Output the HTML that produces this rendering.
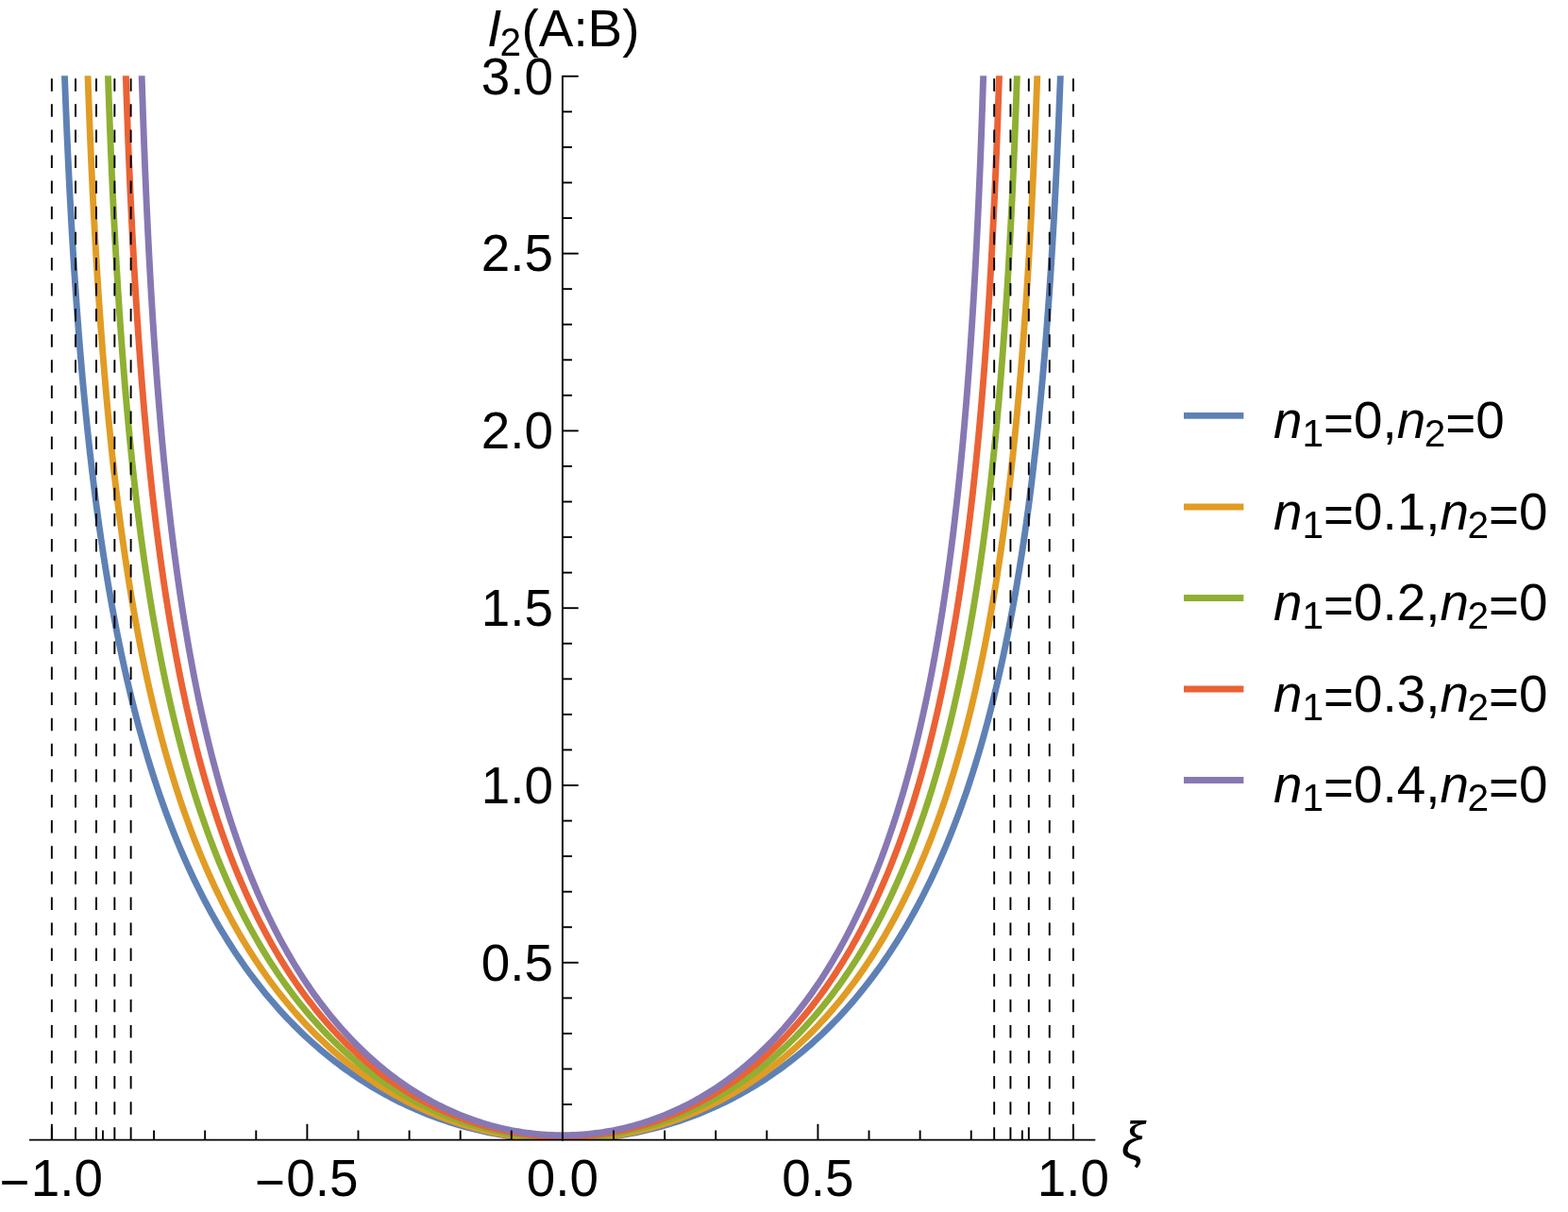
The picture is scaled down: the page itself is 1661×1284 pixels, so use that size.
<!DOCTYPE html>
<html><head><meta charset="utf-8"><title>plot</title>
<style>
html,body{margin:0;padding:0;background:#fff;}
body{width:1661px;height:1284px;overflow:hidden;}
svg{display:block;}
text{font-family:"Liberation Sans",sans-serif;fill:#000;}
.it{font-style:italic;}
</style></head><body>
<svg width="1661" height="1284" viewBox="0 0 1661 1284">
<rect width="1661" height="1284" fill="#fff"/>
<defs><clipPath id="c"><rect x="0" y="80.30" width="1661" height="1127.30"/></clipPath></defs>

<g clip-path="url(#c)" fill="none" stroke-width="6.9" stroke-linejoin="round">
<polyline stroke="#5E81B5" points="64.92,-31.88 64.94,-31.28 64.99,-29.47 65.07,-26.48 65.18,-22.33 65.33,-17.06 65.51,-10.72 65.72,-3.37 65.97,4.93 66.25,14.11 66.56,24.11 66.90,34.85 67.28,46.26 67.69,58.27 68.13,70.81 68.60,83.82 69.11,97.22 69.65,110.97 70.22,125.00 70.82,139.26 71.46,153.70 72.13,168.29 72.83,182.98 73.56,197.73 74.33,212.52 75.12,227.31 75.95,242.08 76.82,256.81 77.71,271.47 78.63,286.05 79.59,300.54 80.58,314.91 81.60,329.17 82.66,343.29 83.74,357.28 84.86,371.12 86.00,384.81 87.18,398.34 88.39,411.71 89.64,424.92 90.91,437.96 92.21,450.84 93.55,463.55 94.92,476.09 96.31,488.46 97.74,500.66 99.20,512.70 100.69,524.56 102.21,536.27 103.76,547.80 105.34,559.17 106.95,570.38 108.59,581.43 110.26,592.33 111.96,603.06 113.70,613.64 115.46,624.07 117.25,634.34 119.07,644.47 120.92,654.45 122.79,664.29 124.70,673.98 126.64,683.54 128.61,692.95 130.60,702.23 132.62,711.38 134.68,720.39 136.76,729.27 138.86,738.03 141.00,746.66 143.17,755.16 145.36,763.54 147.58,771.81 149.83,779.95 152.10,787.98 154.41,795.89 156.74,803.69 159.10,811.37 161.48,818.95 163.89,826.42 166.33,833.78 168.79,841.04 171.28,848.20 173.80,855.25 176.34,862.20 178.91,869.06 181.51,875.81 184.13,882.47 186.77,889.03 189.44,895.51 192.14,901.88 194.86,908.17 197.61,914.37 200.38,920.48 203.17,926.50 205.99,932.44 208.83,938.29 211.70,944.05 214.59,949.74 217.50,955.34 220.44,960.86 223.40,966.30 226.39,971.66 229.39,976.94 232.42,982.15 235.47,987.28 238.54,992.33 241.64,997.31 244.76,1002.22 247.90,1007.05 251.06,1011.82 254.24,1016.51 257.44,1021.13 260.67,1025.68 263.91,1030.16 267.17,1034.57 270.46,1038.92 273.76,1043.20 277.09,1047.41 280.43,1051.55 283.80,1055.64 287.18,1059.65 290.58,1063.61 294.01,1067.50 297.45,1071.33 300.90,1075.09 304.38,1078.80 307.88,1082.44 311.39,1086.02 314.92,1089.55 318.46,1093.01 322.03,1096.42 325.61,1099.76 329.21,1103.05 332.82,1106.28 336.45,1109.46 340.10,1112.58 343.76,1115.64 347.44,1118.64 351.13,1121.59 354.84,1124.49 358.56,1127.33 362.30,1130.12 366.05,1132.85 369.82,1135.53 373.60,1138.15 377.39,1140.73 381.20,1143.25 385.02,1145.71 388.86,1148.13 392.70,1150.49 396.56,1152.81 400.43,1155.07 404.32,1157.28 408.21,1159.44 412.12,1161.55 416.04,1163.61 419.97,1165.63 423.91,1167.59 427.86,1169.50 431.82,1171.36 435.79,1173.18 439.77,1174.94 443.76,1176.66 447.76,1178.33 451.77,1179.95 455.79,1181.53 459.82,1183.05 463.85,1184.53 467.89,1185.96 471.95,1187.35 476.00,1188.69 480.07,1189.98 484.14,1191.22 488.22,1192.42 492.31,1193.57 496.40,1194.68 500.50,1195.74 504.61,1196.75 508.72,1197.72 512.84,1198.64 516.96,1199.52 521.08,1200.35 525.22,1201.13 529.35,1201.87 533.49,1202.57 537.63,1203.22 541.78,1203.82 545.93,1204.38 550.08,1204.90 554.24,1205.37 558.40,1205.79 562.56,1206.17 566.72,1206.51 570.89,1206.80 575.05,1207.04 579.22,1207.24 583.39,1207.40 587.56,1207.51 591.73,1207.58 595.90,1207.60 600.07,1207.58 604.24,1207.51 608.41,1207.40 612.58,1207.24 616.75,1207.04 620.91,1206.80 625.08,1206.51 629.24,1206.17 633.40,1205.79 637.56,1205.37 641.72,1204.90 645.87,1204.38 650.02,1203.82 654.17,1203.22 658.31,1202.57 662.45,1201.87 666.58,1201.13 670.72,1200.35 674.84,1199.52 678.96,1198.64 683.08,1197.72 687.19,1196.75 691.30,1195.74 695.40,1194.68 699.49,1193.57 703.58,1192.42 707.66,1191.22 711.73,1189.98 715.80,1188.69 719.85,1187.35 723.91,1185.96 727.95,1184.53 731.98,1183.05 736.01,1181.53 740.03,1179.95 744.04,1178.33 748.04,1176.66 752.03,1174.94 756.01,1173.18 759.98,1171.36 763.94,1169.50 767.89,1167.59 771.83,1165.63 775.76,1163.61 779.68,1161.55 783.59,1159.44 787.48,1157.28 791.37,1155.07 795.24,1152.81 799.10,1150.49 802.94,1148.13 806.78,1145.71 810.60,1143.25 814.41,1140.73 818.20,1138.15 821.98,1135.53 825.75,1132.85 829.50,1130.12 833.24,1127.33 836.96,1124.49 840.67,1121.59 844.36,1118.64 848.04,1115.64 851.70,1112.58 855.35,1109.46 858.98,1106.28 862.59,1103.05 866.19,1099.76 869.77,1096.42 873.34,1093.01 876.88,1089.55 880.41,1086.02 883.92,1082.44 887.42,1078.80 890.90,1075.09 894.35,1071.33 897.79,1067.50 901.22,1063.61 904.62,1059.65 908.00,1055.64 911.37,1051.55 914.71,1047.41 918.04,1043.20 921.34,1038.92 924.63,1034.57 927.89,1030.16 931.13,1025.68 934.36,1021.13 937.56,1016.51 940.74,1011.82 943.90,1007.05 947.04,1002.22 950.16,997.31 953.26,992.33 956.33,987.28 959.38,982.15 962.41,976.94 965.41,971.66 968.40,966.30 971.36,960.86 974.30,955.34 977.21,949.74 980.10,944.05 982.97,938.29 985.81,932.44 988.63,926.50 991.42,920.48 994.19,914.37 996.94,908.17 999.66,901.88 1002.36,895.51 1005.03,889.03 1007.67,882.47 1010.29,875.81 1012.89,869.06 1015.46,862.20 1018.00,855.25 1020.52,848.20 1023.01,841.04 1025.47,833.78 1027.91,826.42 1030.32,818.95 1032.70,811.37 1035.06,803.69 1037.39,795.89 1039.70,787.98 1041.97,779.95 1044.22,771.81 1046.44,763.54 1048.63,755.16 1050.80,746.66 1052.94,738.03 1055.04,729.27 1057.12,720.39 1059.18,711.38 1061.20,702.23 1063.19,692.95 1065.16,683.54 1067.10,673.98 1069.01,664.29 1070.88,654.45 1072.73,644.47 1074.55,634.34 1076.34,624.07 1078.10,613.64 1079.84,603.06 1081.54,592.33 1083.21,581.43 1084.85,570.38 1086.46,559.17 1088.04,547.80 1089.59,536.27 1091.11,524.56 1092.60,512.70 1094.06,500.66 1095.49,488.46 1096.88,476.09 1098.25,463.55 1099.59,450.84 1100.89,437.96 1102.16,424.92 1103.41,411.71 1104.62,398.34 1105.80,384.81 1106.94,371.12 1108.06,357.28 1109.14,343.29 1110.20,329.17 1111.22,314.91 1112.21,300.54 1113.17,286.05 1114.09,271.47 1114.98,256.81 1115.85,242.08 1116.68,227.31 1117.47,212.52 1118.24,197.73 1118.97,182.98 1119.67,168.29 1120.34,153.70 1120.98,139.26 1121.58,125.00 1122.15,110.97 1122.69,97.22 1123.20,83.82 1123.67,70.81 1124.11,58.27 1124.52,46.26 1124.90,34.85 1125.24,24.11 1125.55,14.11 1125.83,4.93 1126.08,-3.37 1126.29,-10.72 1126.47,-17.06 1126.62,-22.33 1126.73,-26.48 1126.81,-29.47 1126.86,-31.28 1126.88,-31.88"/>
<polyline stroke="#E19C24" points="89.63,-31.89 89.65,-31.29 89.69,-29.48 89.77,-26.49 89.88,-22.34 90.02,-17.07 90.19,-10.74 90.40,-3.39 90.63,4.91 90.90,14.10 91.19,24.09 91.52,34.84 91.88,46.25 92.27,58.26 92.69,70.80 93.14,83.80 93.62,97.21 94.14,110.95 94.68,124.98 95.26,139.24 95.86,153.69 96.50,168.27 97.17,182.96 97.87,197.71 98.60,212.50 99.36,227.29 100.15,242.06 100.97,256.78 101.82,271.44 102.71,286.03 103.62,300.51 104.56,314.88 105.54,329.14 106.54,343.26 107.58,357.25 108.64,371.09 109.73,384.77 110.86,398.30 112.01,411.67 113.20,424.88 114.41,437.92 115.65,450.80 116.93,463.51 118.23,476.05 119.56,488.42 120.92,500.62 122.31,512.65 123.73,524.52 125.18,536.22 126.66,547.75 128.17,559.12 129.71,570.33 131.27,581.38 132.86,592.27 134.49,603.00 136.14,613.58 137.81,624.00 139.52,634.28 141.26,644.40 143.02,654.38 144.81,664.22 146.63,673.91 148.48,683.46 150.35,692.87 152.25,702.15 154.18,711.30 156.14,720.31 158.12,729.19 160.13,737.94 162.17,746.57 164.24,755.07 166.33,763.45 168.44,771.71 170.59,779.85 172.76,787.88 174.95,795.79 177.18,803.58 179.42,811.27 181.70,818.85 184.00,826.31 186.32,833.67 188.67,840.93 191.05,848.08 193.45,855.13 195.87,862.08 198.32,868.93 200.79,875.69 203.29,882.34 205.81,888.91 208.36,895.38 210.93,901.75 213.52,908.04 216.14,914.23 218.78,920.34 221.45,926.36 224.14,932.29 226.85,938.14 229.58,943.90 232.34,949.59 235.11,955.18 237.91,960.70 240.74,966.14 243.58,971.50 246.45,976.78 249.34,981.98 252.24,987.11 255.18,992.16 258.13,997.14 261.10,1002.05 264.09,1006.88 267.11,1011.64 270.14,1016.33 273.19,1020.94 276.27,1025.49 279.36,1029.97 282.47,1034.38 285.60,1038.73 288.76,1043.00 291.93,1047.21 295.12,1051.36 298.32,1055.44 301.55,1059.45 304.79,1063.40 308.06,1067.29 311.34,1071.12 314.63,1074.88 317.95,1078.58 321.28,1082.23 324.63,1085.81 327.99,1089.33 331.38,1092.79 334.77,1096.19 338.19,1099.54 341.62,1102.83 345.07,1106.05 348.53,1109.23 352.00,1112.34 355.50,1115.40 359.00,1118.41 362.52,1121.35 366.06,1124.25 369.61,1127.09 373.17,1129.87 376.75,1132.60 380.34,1135.28 383.95,1137.90 387.56,1140.47 391.19,1142.99 394.84,1145.46 398.49,1147.87 402.16,1150.24 405.84,1152.55 409.53,1154.81 413.23,1157.02 416.95,1159.18 420.67,1161.29 424.41,1163.35 428.15,1165.36 431.91,1167.32 435.68,1169.23 439.45,1171.09 443.24,1172.90 447.04,1174.67 450.84,1176.39 454.66,1178.05 458.48,1179.67 462.31,1181.25 466.15,1182.77 470.00,1184.25 473.85,1185.68 477.71,1187.07 481.58,1188.40 485.46,1189.69 489.34,1190.94 493.24,1192.13 497.13,1193.28 501.03,1194.39 504.94,1195.45 508.86,1196.46 512.78,1197.43 516.70,1198.35 520.63,1199.22 524.57,1200.05 528.50,1200.84 532.45,1201.58 536.39,1202.27 540.35,1202.92 544.30,1203.53 548.26,1204.08 552.22,1204.60 556.18,1205.07 560.14,1205.49 564.11,1205.87 568.08,1206.21 572.05,1206.50 576.02,1206.74 580.00,1206.94 583.97,1207.10 587.95,1207.21 591.92,1207.28 595.90,1207.30 599.88,1207.28 603.85,1207.21 607.83,1207.10 611.80,1206.94 615.78,1206.74 619.75,1206.50 623.72,1206.21 627.69,1205.87 631.66,1205.49 635.62,1205.07 639.58,1204.60 643.54,1204.08 647.50,1203.53 651.45,1202.92 655.41,1202.27 659.35,1201.58 663.30,1200.84 667.23,1200.05 671.17,1199.22 675.10,1198.35 679.02,1197.43 682.94,1196.46 686.86,1195.45 690.77,1194.39 694.67,1193.28 698.56,1192.13 702.46,1190.94 706.34,1189.69 710.22,1188.40 714.09,1187.07 717.95,1185.68 721.80,1184.25 725.65,1182.77 729.49,1181.25 733.32,1179.67 737.14,1178.05 740.96,1176.39 744.76,1174.67 748.56,1172.90 752.35,1171.09 756.12,1169.23 759.89,1167.32 763.65,1165.36 767.39,1163.35 771.13,1161.29 774.85,1159.18 778.57,1157.02 782.27,1154.81 785.96,1152.55 789.64,1150.24 793.31,1147.87 796.96,1145.46 800.61,1142.99 804.24,1140.47 807.85,1137.90 811.46,1135.28 815.05,1132.60 818.63,1129.87 822.19,1127.09 825.74,1124.25 829.28,1121.35 832.80,1118.41 836.30,1115.40 839.80,1112.34 843.27,1109.23 846.73,1106.05 850.18,1102.83 853.61,1099.54 857.03,1096.19 860.42,1092.79 863.81,1089.33 867.17,1085.81 870.52,1082.23 873.85,1078.58 877.17,1074.88 880.46,1071.12 883.74,1067.29 887.01,1063.40 890.25,1059.45 893.48,1055.44 896.68,1051.36 899.87,1047.21 903.04,1043.00 906.20,1038.73 909.33,1034.38 912.44,1029.97 915.53,1025.49 918.61,1020.94 921.66,1016.33 924.69,1011.64 927.71,1006.88 930.70,1002.05 933.67,997.14 936.62,992.16 939.56,987.11 942.46,981.98 945.35,976.78 948.22,971.50 951.06,966.14 953.89,960.70 956.69,955.18 959.46,949.59 962.22,943.90 964.95,938.14 967.66,932.29 970.35,926.36 973.02,920.34 975.66,914.23 978.28,908.04 980.87,901.75 983.44,895.38 985.99,888.91 988.51,882.34 991.01,875.69 993.48,868.93 995.93,862.08 998.35,855.13 1000.75,848.08 1003.13,840.93 1005.48,833.67 1007.80,826.31 1010.10,818.85 1012.38,811.27 1014.62,803.58 1016.85,795.79 1019.04,787.88 1021.21,779.85 1023.36,771.71 1025.47,763.45 1027.56,755.07 1029.63,746.57 1031.67,737.94 1033.68,729.19 1035.66,720.31 1037.62,711.30 1039.55,702.15 1041.45,692.87 1043.32,683.46 1045.17,673.91 1046.99,664.22 1048.78,654.38 1050.54,644.40 1052.28,634.28 1053.99,624.00 1055.66,613.58 1057.31,603.00 1058.94,592.27 1060.53,581.38 1062.09,570.33 1063.63,559.12 1065.14,547.75 1066.62,536.22 1068.07,524.52 1069.49,512.65 1070.88,500.62 1072.24,488.42 1073.57,476.05 1074.87,463.51 1076.15,450.80 1077.39,437.92 1078.60,424.88 1079.79,411.67 1080.94,398.30 1082.07,384.77 1083.16,371.09 1084.22,357.25 1085.26,343.26 1086.26,329.14 1087.24,314.88 1088.18,300.51 1089.09,286.03 1089.98,271.44 1090.83,256.78 1091.65,242.06 1092.44,227.29 1093.20,212.50 1093.93,197.71 1094.63,182.96 1095.30,168.27 1095.94,153.69 1096.54,139.24 1097.12,124.98 1097.66,110.95 1098.18,97.21 1098.66,83.80 1099.11,70.80 1099.53,58.26 1099.92,46.25 1100.28,34.84 1100.61,24.09 1100.90,14.10 1101.17,4.91 1101.40,-3.39 1101.61,-10.74 1101.78,-17.07 1101.92,-22.34 1102.03,-26.49 1102.11,-29.48 1102.15,-31.29 1102.17,-31.89"/>
<polyline stroke="#8FB032" points="111.19,-31.94 111.20,-31.33 111.25,-29.53 111.32,-26.53 111.42,-22.39 111.56,-17.12 111.72,-10.78 111.92,-3.44 112.14,4.86 112.40,14.04 112.68,24.04 112.99,34.78 113.34,46.19 113.71,58.20 114.11,70.74 114.55,83.74 115.01,97.14 115.50,110.88 116.02,124.91 116.57,139.17 117.15,153.61 117.76,168.19 118.40,182.88 119.07,197.62 119.77,212.41 120.50,227.19 121.26,241.96 122.04,256.68 122.86,271.34 123.70,285.92 124.58,300.40 125.48,314.77 126.41,329.02 127.37,343.13 128.36,357.11 129.38,370.95 130.43,384.63 131.51,398.16 132.61,411.52 133.75,424.72 134.91,437.76 136.10,450.63 137.32,463.33 138.57,475.86 139.84,488.23 141.14,500.42 142.48,512.45 143.84,524.31 145.22,536.00 146.64,547.53 148.08,558.89 149.55,570.10 151.05,581.14 152.58,592.02 154.13,602.74 155.71,613.32 157.32,623.73 158.95,634.00 160.61,644.12 162.30,654.09 164.02,663.92 165.76,673.60 167.53,683.15 169.32,692.55 171.14,701.82 172.99,710.95 174.86,719.96 176.76,728.83 178.69,737.58 180.64,746.19 182.61,754.69 184.61,763.06 186.64,771.31 188.69,779.44 190.77,787.46 192.87,795.36 195.00,803.15 197.15,810.83 199.33,818.39 201.53,825.85 203.76,833.20 206.01,840.45 208.28,847.59 210.58,854.63 212.90,861.57 215.25,868.42 217.61,875.16 220.01,881.81 222.42,888.36 224.86,894.82 227.32,901.19 229.80,907.46 232.31,913.65 234.84,919.75 237.39,925.76 239.96,931.68 242.56,937.52 245.18,943.27 247.81,948.94 250.47,954.53 253.15,960.04 255.86,965.47 258.58,970.82 261.33,976.09 264.09,981.28 266.88,986.40 269.68,991.45 272.51,996.41 275.35,1001.31 278.22,1006.13 281.10,1010.88 284.01,1015.56 286.93,1020.17 289.87,1024.71 292.84,1029.18 295.82,1033.58 298.81,1037.91 301.83,1042.18 304.87,1046.38 307.92,1050.51 310.99,1054.59 314.08,1058.59 317.19,1062.53 320.31,1066.41 323.45,1070.23 326.61,1073.99 329.78,1077.68 332.97,1081.31 336.18,1084.88 339.40,1088.40 342.64,1091.85 345.89,1095.25 349.16,1098.58 352.44,1101.86 355.74,1105.08 359.06,1108.25 362.39,1111.35 365.73,1114.40 369.09,1117.40 372.46,1120.34 375.84,1123.23 379.24,1126.06 382.65,1128.83 386.08,1131.56 389.52,1134.23 392.97,1136.84 396.43,1139.41 399.91,1141.92 403.40,1144.38 406.90,1146.79 410.41,1149.14 413.93,1151.45 417.46,1153.70 421.01,1155.90 424.57,1158.06 428.13,1160.16 431.71,1162.21 435.30,1164.22 438.89,1166.17 442.50,1168.08 446.11,1169.93 449.74,1171.74 453.37,1173.50 457.02,1175.21 460.67,1176.88 464.33,1178.49 468.00,1180.06 471.67,1181.58 475.36,1183.05 479.05,1184.48 482.75,1185.86 486.45,1187.19 490.16,1188.48 493.88,1189.72 497.61,1190.91 501.34,1192.06 505.07,1193.16 508.82,1194.21 512.56,1195.22 516.32,1196.19 520.07,1197.10 523.84,1197.98 527.60,1198.80 531.37,1199.59 535.15,1200.32 538.93,1201.02 542.71,1201.66 546.50,1202.26 550.28,1202.82 554.08,1203.33 557.87,1203.80 561.67,1204.22 565.46,1204.60 569.26,1204.94 573.07,1205.23 576.87,1205.47 580.67,1205.67 584.48,1205.83 588.29,1205.94 592.09,1206.00 595.90,1206.03 599.71,1206.00 603.51,1205.94 607.32,1205.83 611.13,1205.67 614.93,1205.47 618.73,1205.23 622.54,1204.94 626.34,1204.60 630.13,1204.22 633.93,1203.80 637.72,1203.33 641.52,1202.82 645.30,1202.26 649.09,1201.66 652.87,1201.02 656.65,1200.32 660.43,1199.59 664.20,1198.80 667.96,1197.98 671.73,1197.10 675.48,1196.19 679.24,1195.22 682.98,1194.21 686.73,1193.16 690.46,1192.06 694.19,1190.91 697.92,1189.72 701.64,1188.48 705.35,1187.19 709.05,1185.86 712.75,1184.48 716.44,1183.05 720.13,1181.58 723.80,1180.06 727.47,1178.49 731.13,1176.88 734.78,1175.21 738.43,1173.50 742.06,1171.74 745.69,1169.93 749.30,1168.08 752.91,1166.17 756.50,1164.22 760.09,1162.21 763.67,1160.16 767.23,1158.06 770.79,1155.90 774.34,1153.70 777.87,1151.45 781.39,1149.14 784.90,1146.79 788.40,1144.38 791.89,1141.92 795.37,1139.41 798.83,1136.84 802.28,1134.23 805.72,1131.56 809.15,1128.83 812.56,1126.06 815.96,1123.23 819.34,1120.34 822.71,1117.40 826.07,1114.40 829.41,1111.35 832.74,1108.25 836.06,1105.08 839.36,1101.86 842.64,1098.58 845.91,1095.25 849.16,1091.85 852.40,1088.40 855.62,1084.88 858.83,1081.31 862.02,1077.68 865.19,1073.99 868.35,1070.23 871.49,1066.41 874.61,1062.53 877.72,1058.59 880.81,1054.59 883.88,1050.51 886.93,1046.38 889.97,1042.18 892.99,1037.91 895.98,1033.58 898.96,1029.18 901.93,1024.71 904.87,1020.17 907.79,1015.56 910.70,1010.88 913.58,1006.13 916.45,1001.31 919.29,996.41 922.12,991.45 924.92,986.40 927.71,981.28 930.47,976.09 933.22,970.82 935.94,965.47 938.65,960.04 941.33,954.53 943.99,948.94 946.62,943.27 949.24,937.52 951.84,931.68 954.41,925.76 956.96,919.75 959.49,913.65 962.00,907.46 964.48,901.19 966.94,894.82 969.38,888.36 971.79,881.81 974.19,875.16 976.55,868.42 978.90,861.57 981.22,854.63 983.52,847.59 985.79,840.45 988.04,833.20 990.27,825.85 992.47,818.39 994.65,810.83 996.80,803.15 998.93,795.36 1001.03,787.46 1003.11,779.44 1005.16,771.31 1007.19,763.06 1009.19,754.69 1011.16,746.19 1013.11,737.58 1015.04,728.83 1016.94,719.96 1018.81,710.95 1020.66,701.82 1022.48,692.55 1024.27,683.15 1026.04,673.60 1027.78,663.92 1029.50,654.09 1031.19,644.12 1032.85,634.00 1034.48,623.73 1036.09,613.32 1037.67,602.74 1039.22,592.02 1040.75,581.14 1042.25,570.10 1043.72,558.89 1045.16,547.53 1046.58,536.00 1047.96,524.31 1049.32,512.45 1050.66,500.42 1051.96,488.23 1053.23,475.86 1054.48,463.33 1055.70,450.63 1056.89,437.76 1058.05,424.72 1059.19,411.52 1060.29,398.16 1061.37,384.63 1062.42,370.95 1063.44,357.11 1064.43,343.13 1065.39,329.02 1066.32,314.77 1067.22,300.40 1068.10,285.92 1068.94,271.34 1069.76,256.68 1070.54,241.96 1071.30,227.19 1072.03,212.41 1072.73,197.62 1073.40,182.88 1074.04,168.19 1074.65,153.61 1075.23,139.17 1075.78,124.91 1076.30,110.88 1076.79,97.14 1077.25,83.74 1077.69,70.74 1078.09,58.20 1078.46,46.19 1078.81,34.78 1079.12,24.04 1079.40,14.04 1079.66,4.86 1079.88,-3.44 1080.08,-10.78 1080.24,-17.12 1080.38,-22.39 1080.48,-26.53 1080.55,-29.53 1080.60,-31.33 1080.61,-31.94"/>
<polyline stroke="#EB6235" points="130.20,-32.00 130.22,-31.40 130.26,-29.59 130.33,-26.60 130.43,-22.45 130.56,-17.18 130.72,-10.85 130.90,-3.50 131.12,4.79 131.36,13.97 131.64,23.97 131.94,34.70 132.27,46.11 132.63,58.12 133.01,70.65 133.43,83.65 133.87,97.05 134.35,110.79 134.85,124.81 135.38,139.07 135.93,153.51 136.52,168.09 137.14,182.77 137.78,197.51 138.45,212.29 139.15,227.07 139.88,241.83 140.63,256.55 141.42,271.20 142.23,285.77 143.07,300.24 143.94,314.61 144.83,328.85 145.76,342.97 146.71,356.94 147.69,370.77 148.69,384.44 149.73,397.96 150.79,411.32 151.88,424.51 152.99,437.54 154.14,450.40 155.31,463.10 156.51,475.62 157.73,487.98 158.99,500.17 160.26,512.18 161.57,524.03 162.90,535.72 164.26,547.24 165.65,558.59 167.06,569.79 168.50,580.82 169.97,591.69 171.46,602.41 172.98,612.97 174.52,623.38 176.09,633.63 177.69,643.74 179.31,653.70 180.96,663.52 182.63,673.19 184.33,682.73 186.06,692.12 187.80,701.38 189.58,710.50 191.38,719.50 193.20,728.36 195.05,737.09 196.93,745.70 198.83,754.18 200.75,762.54 202.70,770.78 204.67,778.90 206.67,786.91 208.69,794.80 210.73,802.57 212.80,810.24 214.89,817.79 217.00,825.24 219.14,832.58 221.30,839.81 223.49,846.94 225.70,853.97 227.93,860.90 230.18,867.73 232.45,874.46 234.75,881.10 237.07,887.64 239.42,894.09 241.78,900.44 244.17,906.70 246.57,912.88 249.00,918.96 251.45,924.96 253.93,930.87 256.42,936.69 258.93,942.44 261.47,948.10 264.03,953.67 266.60,959.17 269.20,964.58 271.81,969.92 274.45,975.18 277.11,980.36 279.78,985.47 282.48,990.50 285.19,995.45 287.93,1000.33 290.68,1005.14 293.45,1009.88 296.24,1014.55 299.05,1019.14 301.88,1023.67 304.73,1028.13 307.59,1032.52 310.47,1036.84 313.37,1041.09 316.28,1045.28 319.22,1049.40 322.17,1053.46 325.14,1057.46 328.12,1061.39 331.12,1065.25 334.14,1069.06 337.17,1072.80 340.22,1076.49 343.29,1080.11 346.37,1083.67 349.46,1087.17 352.57,1090.61 355.70,1093.99 358.84,1097.32 362.00,1100.59 365.17,1103.80 368.35,1106.95 371.55,1110.05 374.76,1113.09 377.99,1116.07 381.22,1119.00 384.48,1121.88 387.74,1124.70 391.02,1127.47 394.31,1130.18 397.62,1132.84 400.93,1135.45 404.26,1138.00 407.60,1140.50 410.95,1142.95 414.31,1145.35 417.68,1147.70 421.07,1149.99 424.46,1152.24 427.87,1154.43 431.29,1156.58 434.71,1158.67 438.15,1160.72 441.60,1162.71 445.05,1164.66 448.52,1166.56 451.99,1168.41 455.47,1170.21 458.97,1171.96 462.47,1173.66 465.97,1175.32 469.49,1176.93 473.01,1178.49 476.55,1180.01 480.09,1181.47 483.63,1182.89 487.18,1184.27 490.74,1185.59 494.31,1186.87 497.88,1188.11 501.46,1189.30 505.05,1190.44 508.64,1191.53 512.23,1192.59 515.83,1193.59 519.44,1194.55 523.05,1195.46 526.66,1196.33 530.28,1197.16 533.91,1197.94 537.53,1198.67 541.16,1199.36 544.80,1200.00 548.43,1200.60 552.07,1201.16 555.72,1201.67 559.36,1202.13 563.01,1202.55 566.66,1202.93 570.31,1203.26 573.96,1203.55 577.62,1203.79 581.27,1203.99 584.93,1204.15 588.59,1204.26 592.24,1204.32 595.90,1204.35 599.56,1204.32 603.21,1204.26 606.87,1204.15 610.53,1203.99 614.18,1203.79 617.84,1203.55 621.49,1203.26 625.14,1202.93 628.79,1202.55 632.44,1202.13 636.08,1201.67 639.73,1201.16 643.37,1200.60 647.00,1200.00 650.64,1199.36 654.27,1198.67 657.89,1197.94 661.52,1197.16 665.14,1196.33 668.75,1195.46 672.36,1194.55 675.97,1193.59 679.57,1192.59 683.16,1191.53 686.75,1190.44 690.34,1189.30 693.92,1188.11 697.49,1186.87 701.06,1185.59 704.62,1184.27 708.17,1182.89 711.71,1181.47 715.25,1180.01 718.79,1178.49 722.31,1176.93 725.83,1175.32 729.33,1173.66 732.83,1171.96 736.33,1170.21 739.81,1168.41 743.28,1166.56 746.75,1164.66 750.20,1162.71 753.65,1160.72 757.09,1158.67 760.51,1156.58 763.93,1154.43 767.34,1152.24 770.73,1149.99 774.12,1147.70 777.49,1145.35 780.85,1142.95 784.20,1140.50 787.54,1138.00 790.87,1135.45 794.18,1132.84 797.49,1130.18 800.78,1127.47 804.06,1124.70 807.32,1121.88 810.58,1119.00 813.81,1116.07 817.04,1113.09 820.25,1110.05 823.45,1106.95 826.63,1103.80 829.80,1100.59 832.96,1097.32 836.10,1093.99 839.23,1090.61 842.34,1087.17 845.43,1083.67 848.51,1080.11 851.58,1076.49 854.63,1072.80 857.66,1069.06 860.68,1065.25 863.68,1061.39 866.66,1057.46 869.63,1053.46 872.58,1049.40 875.52,1045.28 878.43,1041.09 881.33,1036.84 884.21,1032.52 887.07,1028.13 889.92,1023.67 892.75,1019.14 895.56,1014.55 898.35,1009.88 901.12,1005.14 903.87,1000.33 906.61,995.45 909.32,990.50 912.02,985.47 914.69,980.36 917.35,975.18 919.99,969.92 922.60,964.58 925.20,959.17 927.77,953.67 930.33,948.10 932.87,942.44 935.38,936.69 937.87,930.87 940.35,924.96 942.80,918.96 945.23,912.88 947.63,906.70 950.02,900.44 952.38,894.09 954.73,887.64 957.05,881.10 959.35,874.46 961.62,867.73 963.87,860.90 966.10,853.97 968.31,846.94 970.50,839.81 972.66,832.58 974.80,825.24 976.91,817.79 979.00,810.24 981.07,802.57 983.11,794.80 985.13,786.91 987.13,778.90 989.10,770.78 991.05,762.54 992.97,754.18 994.87,745.70 996.75,737.09 998.60,728.36 1000.42,719.50 1002.22,710.50 1004.00,701.38 1005.74,692.12 1007.47,682.73 1009.17,673.19 1010.84,663.52 1012.49,653.70 1014.11,643.74 1015.71,633.63 1017.28,623.38 1018.82,612.97 1020.34,602.41 1021.83,591.69 1023.30,580.82 1024.74,569.79 1026.15,558.59 1027.54,547.24 1028.90,535.72 1030.23,524.03 1031.54,512.18 1032.81,500.17 1034.07,487.98 1035.29,475.62 1036.49,463.10 1037.66,450.40 1038.81,437.54 1039.92,424.51 1041.01,411.32 1042.07,397.96 1043.11,384.44 1044.11,370.77 1045.09,356.94 1046.04,342.97 1046.97,328.85 1047.86,314.61 1048.73,300.24 1049.57,285.77 1050.38,271.20 1051.17,256.55 1051.92,241.83 1052.65,227.07 1053.35,212.29 1054.02,197.51 1054.66,182.77 1055.28,168.09 1055.87,153.51 1056.42,139.07 1056.95,124.81 1057.45,110.79 1057.93,97.05 1058.37,83.65 1058.79,70.65 1059.17,58.12 1059.53,46.11 1059.86,34.70 1060.16,23.97 1060.44,13.97 1060.68,4.79 1060.90,-3.50 1061.08,-10.85 1061.24,-17.18 1061.37,-22.45 1061.47,-26.60 1061.54,-29.59 1061.58,-31.40 1061.60,-32.00"/>
<polyline stroke="#8778B3" points="147.14,-32.06 147.16,-31.46 147.20,-29.65 147.27,-26.66 147.36,-22.51 147.49,-17.25 147.64,-10.91 147.82,-3.57 148.03,4.73 148.26,13.91 148.52,23.90 148.82,34.63 149.13,46.04 149.48,58.04 149.85,70.58 150.25,83.57 150.68,96.97 151.14,110.70 151.62,124.72 152.13,138.97 152.67,153.41 153.23,167.98 153.82,182.66 154.44,197.40 155.09,212.17 155.76,226.95 156.47,241.71 157.19,256.42 157.95,271.07 158.73,285.63 159.54,300.10 160.38,314.46 161.24,328.70 162.13,342.80 163.05,356.77 163.99,370.59 164.96,384.26 165.96,397.77 166.98,411.12 168.03,424.31 169.11,437.33 170.21,450.19 171.34,462.88 172.49,475.39 173.67,487.74 174.88,499.92 176.11,511.93 177.37,523.77 178.65,535.45 179.97,546.96 181.30,558.31 182.66,569.49 184.05,580.51 185.46,591.38 186.90,602.08 188.36,612.64 189.85,623.04 191.36,633.28 192.90,643.38 194.47,653.33 196.05,663.14 197.67,672.80 199.30,682.33 200.96,691.71 202.65,700.96 204.36,710.08 206.09,719.06 207.85,727.91 209.63,736.63 211.44,745.23 213.27,753.70 215.12,762.05 217.00,770.28 218.90,778.39 220.82,786.38 222.77,794.26 224.74,802.03 226.73,809.68 228.75,817.22 230.79,824.66 232.85,831.98 234.93,839.21 237.03,846.33 239.16,853.34 241.31,860.26 243.48,867.08 245.68,873.80 247.89,880.42 250.13,886.95 252.38,893.38 254.66,899.73 256.96,905.98 259.28,912.14 261.62,918.21 263.98,924.20 266.37,930.10 268.77,935.91 271.19,941.64 273.63,947.29 276.10,952.85 278.58,958.33 281.08,963.74 283.60,969.06 286.14,974.31 288.70,979.48 291.28,984.57 293.88,989.59 296.50,994.53 299.13,999.40 301.78,1004.20 304.45,1008.93 307.14,1013.58 309.85,1018.17 312.57,1022.68 315.32,1027.13 318.08,1031.50 320.85,1035.81 323.65,1040.06 326.46,1044.23 329.28,1048.35 332.13,1052.39 334.99,1056.38 337.86,1060.29 340.75,1064.15 343.66,1067.94 346.58,1071.68 349.52,1075.35 352.47,1078.96 355.44,1082.51 358.43,1086.00 361.42,1089.43 364.44,1092.80 367.46,1096.12 370.50,1099.37 373.56,1102.57 376.63,1105.72 379.71,1108.80 382.80,1111.83 385.91,1114.81 389.03,1117.73 392.17,1120.60 395.31,1123.41 398.47,1126.16 401.64,1128.87 404.83,1131.52 408.02,1134.12 411.23,1136.66 414.45,1139.15 417.68,1141.59 420.92,1143.98 424.17,1146.32 427.43,1148.61 430.70,1150.85 433.98,1153.03 437.28,1155.17 440.58,1157.26 443.89,1159.30 447.21,1161.28 450.54,1163.22 453.88,1165.11 457.23,1166.96 460.58,1168.75 463.95,1170.49 467.32,1172.19 470.70,1173.84 474.09,1175.44 477.48,1177.00 480.89,1178.51 484.30,1179.97 487.72,1181.38 491.14,1182.75 494.57,1184.07 498.01,1185.35 501.45,1186.58 504.90,1187.76 508.35,1188.90 511.81,1189.99 515.28,1191.04 518.75,1192.04 522.22,1192.99 525.70,1193.90 529.18,1194.77 532.67,1195.59 536.16,1196.36 539.66,1197.10 543.15,1197.78 546.66,1198.42 550.16,1199.02 553.67,1199.57 557.18,1200.08 560.69,1200.54 564.21,1200.96 567.72,1201.34 571.24,1201.67 574.76,1201.96 578.28,1202.20 581.80,1202.40 585.33,1202.55 588.85,1202.66 592.38,1202.73 595.90,1202.75 599.42,1202.73 602.95,1202.66 606.47,1202.55 610.00,1202.40 613.52,1202.20 617.04,1201.96 620.56,1201.67 624.08,1201.34 627.59,1200.96 631.11,1200.54 634.62,1200.08 638.13,1199.57 641.64,1199.02 645.14,1198.42 648.65,1197.78 652.14,1197.10 655.64,1196.36 659.13,1195.59 662.62,1194.77 666.10,1193.90 669.58,1192.99 673.05,1192.04 676.52,1191.04 679.99,1189.99 683.45,1188.90 686.90,1187.76 690.35,1186.58 693.79,1185.35 697.23,1184.07 700.66,1182.75 704.08,1181.38 707.50,1179.97 710.91,1178.51 714.32,1177.00 717.71,1175.44 721.10,1173.84 724.48,1172.19 727.85,1170.49 731.22,1168.75 734.57,1166.96 737.92,1165.11 741.26,1163.22 744.59,1161.28 747.91,1159.30 751.22,1157.26 754.52,1155.17 757.82,1153.03 761.10,1150.85 764.37,1148.61 767.63,1146.32 770.88,1143.98 774.12,1141.59 777.35,1139.15 780.57,1136.66 783.78,1134.12 786.97,1131.52 790.16,1128.87 793.33,1126.16 796.49,1123.41 799.63,1120.60 802.77,1117.73 805.89,1114.81 809.00,1111.83 812.09,1108.80 815.17,1105.72 818.24,1102.57 821.30,1099.37 824.34,1096.12 827.36,1092.80 830.38,1089.43 833.37,1086.00 836.36,1082.51 839.33,1078.96 842.28,1075.35 845.22,1071.68 848.14,1067.94 851.05,1064.15 853.94,1060.29 856.81,1056.38 859.67,1052.39 862.52,1048.35 865.34,1044.23 868.15,1040.06 870.95,1035.81 873.72,1031.50 876.48,1027.13 879.23,1022.68 881.95,1018.17 884.66,1013.58 887.35,1008.93 890.02,1004.20 892.67,999.40 895.30,994.53 897.92,989.59 900.52,984.57 903.10,979.48 905.66,974.31 908.20,969.06 910.72,963.74 913.22,958.33 915.70,952.85 918.17,947.29 920.61,941.64 923.03,935.91 925.43,930.10 927.82,924.20 930.18,918.21 932.52,912.14 934.84,905.98 937.14,899.73 939.42,893.38 941.67,886.95 943.91,880.42 946.12,873.80 948.32,867.08 950.49,860.26 952.64,853.34 954.77,846.33 956.87,839.21 958.95,831.98 961.01,824.66 963.05,817.22 965.07,809.68 967.06,802.03 969.03,794.26 970.98,786.38 972.90,778.39 974.80,770.28 976.68,762.05 978.53,753.70 980.36,745.23 982.17,736.63 983.95,727.91 985.71,719.06 987.44,710.08 989.15,700.96 990.84,691.71 992.50,682.33 994.13,672.80 995.75,663.14 997.33,653.33 998.90,643.38 1000.44,633.28 1001.95,623.04 1003.44,612.64 1004.90,602.08 1006.34,591.38 1007.75,580.51 1009.14,569.49 1010.50,558.31 1011.83,546.96 1013.15,535.45 1014.43,523.77 1015.69,511.93 1016.92,499.92 1018.13,487.74 1019.31,475.39 1020.46,462.88 1021.59,450.19 1022.69,437.33 1023.77,424.31 1024.82,411.12 1025.84,397.77 1026.84,384.26 1027.81,370.59 1028.75,356.77 1029.67,342.80 1030.56,328.70 1031.42,314.46 1032.26,300.10 1033.07,285.63 1033.85,271.07 1034.61,256.42 1035.33,241.71 1036.04,226.95 1036.71,212.17 1037.36,197.40 1037.98,182.66 1038.57,167.98 1039.13,153.41 1039.67,138.97 1040.18,124.72 1040.66,110.70 1041.12,96.97 1041.55,83.57 1041.95,70.58 1042.32,58.04 1042.67,46.04 1042.98,34.63 1043.28,23.90 1043.54,13.91 1043.77,4.73 1043.98,-3.57 1044.16,-10.91 1044.31,-17.25 1044.44,-22.51 1044.53,-26.66 1044.60,-29.65 1044.64,-31.46 1044.66,-32.06"/>
</g>
<g stroke="#000" stroke-width="1.9" stroke-dasharray="13.5 13.6" fill="none">
<line x1="54.85" y1="83.20" x2="54.85" y2="1207.60"/>
<line x1="1136.95" y1="83.20" x2="1136.95" y2="1207.60"/>
<line x1="80.03" y1="83.20" x2="80.03" y2="1207.60"/>
<line x1="1111.77" y1="83.20" x2="1111.77" y2="1207.60"/>
<line x1="101.99" y1="83.20" x2="101.99" y2="1207.60"/>
<line x1="1089.81" y1="83.20" x2="1089.81" y2="1207.60"/>
<line x1="121.37" y1="83.20" x2="121.37" y2="1207.60"/>
<line x1="1070.43" y1="83.20" x2="1070.43" y2="1207.60"/>
<line x1="138.63" y1="83.20" x2="138.63" y2="1207.60"/>
<line x1="1053.17" y1="83.20" x2="1053.17" y2="1207.60"/>
</g>
<g stroke="#000" stroke-width="1.9" fill="none">
<line x1="31" y1="1207.60" x2="1160.3" y2="1207.60"/>
<line x1="595.90" y1="79.90" x2="595.90" y2="1208.80"/>
<line x1="54.85" y1="1207.60" x2="54.85" y2="1190.80"/>
<line x1="108.95" y1="1207.60" x2="108.95" y2="1197.50"/>
<line x1="163.06" y1="1207.60" x2="163.06" y2="1197.50"/>
<line x1="217.17" y1="1207.60" x2="217.17" y2="1197.50"/>
<line x1="271.27" y1="1207.60" x2="271.27" y2="1197.50"/>
<line x1="325.38" y1="1207.60" x2="325.38" y2="1190.80"/>
<line x1="379.48" y1="1207.60" x2="379.48" y2="1197.50"/>
<line x1="433.59" y1="1207.60" x2="433.59" y2="1197.50"/>
<line x1="487.69" y1="1207.60" x2="487.69" y2="1197.50"/>
<line x1="541.79" y1="1207.60" x2="541.79" y2="1197.50"/>
<line x1="650.00" y1="1207.60" x2="650.00" y2="1197.50"/>
<line x1="704.11" y1="1207.60" x2="704.11" y2="1197.50"/>
<line x1="758.21" y1="1207.60" x2="758.21" y2="1197.50"/>
<line x1="812.32" y1="1207.60" x2="812.32" y2="1197.50"/>
<line x1="866.42" y1="1207.60" x2="866.42" y2="1190.80"/>
<line x1="920.53" y1="1207.60" x2="920.53" y2="1197.50"/>
<line x1="974.63" y1="1207.60" x2="974.63" y2="1197.50"/>
<line x1="1028.74" y1="1207.60" x2="1028.74" y2="1197.50"/>
<line x1="1082.85" y1="1207.60" x2="1082.85" y2="1197.50"/>
<line x1="1136.95" y1="1207.60" x2="1136.95" y2="1190.80"/>
<line x1="595.90" y1="1170.04" x2="606.00" y2="1170.04"/>
<line x1="595.90" y1="1132.48" x2="606.00" y2="1132.48"/>
<line x1="595.90" y1="1094.92" x2="606.00" y2="1094.92"/>
<line x1="595.90" y1="1057.36" x2="606.00" y2="1057.36"/>
<line x1="595.90" y1="1019.80" x2="612.70" y2="1019.80"/>
<line x1="595.90" y1="982.24" x2="606.00" y2="982.24"/>
<line x1="595.90" y1="944.68" x2="606.00" y2="944.68"/>
<line x1="595.90" y1="907.12" x2="606.00" y2="907.12"/>
<line x1="595.90" y1="869.56" x2="606.00" y2="869.56"/>
<line x1="595.90" y1="832.00" x2="612.70" y2="832.00"/>
<line x1="595.90" y1="794.44" x2="606.00" y2="794.44"/>
<line x1="595.90" y1="756.88" x2="606.00" y2="756.88"/>
<line x1="595.90" y1="719.32" x2="606.00" y2="719.32"/>
<line x1="595.90" y1="681.76" x2="606.00" y2="681.76"/>
<line x1="595.90" y1="644.20" x2="612.70" y2="644.20"/>
<line x1="595.90" y1="606.64" x2="606.00" y2="606.64"/>
<line x1="595.90" y1="569.08" x2="606.00" y2="569.08"/>
<line x1="595.90" y1="531.52" x2="606.00" y2="531.52"/>
<line x1="595.90" y1="493.96" x2="606.00" y2="493.96"/>
<line x1="595.90" y1="456.40" x2="612.70" y2="456.40"/>
<line x1="595.90" y1="418.84" x2="606.00" y2="418.84"/>
<line x1="595.90" y1="381.28" x2="606.00" y2="381.28"/>
<line x1="595.90" y1="343.72" x2="606.00" y2="343.72"/>
<line x1="595.90" y1="306.16" x2="606.00" y2="306.16"/>
<line x1="595.90" y1="268.60" x2="612.70" y2="268.60"/>
<line x1="595.90" y1="231.04" x2="606.00" y2="231.04"/>
<line x1="595.90" y1="193.48" x2="606.00" y2="193.48"/>
<line x1="595.90" y1="155.92" x2="606.00" y2="155.92"/>
<line x1="595.90" y1="118.36" x2="606.00" y2="118.36"/>
<line x1="595.90" y1="80.80" x2="612.70" y2="80.80"/>
</g>
<g font-size="54.8">
<text transform="translate(54.75,1267.00) scale(1,1)" text-anchor="middle"><tspan dx="-0.7" dy="3.8">−</tspan><tspan dx="1.6" dy="-3.8">1.0</tspan></text>
<text transform="translate(325.27,1267.00) scale(1,1)" text-anchor="middle"><tspan dx="-0.7" dy="3.8">−</tspan><tspan dx="1.6" dy="-3.8">0.5</tspan></text>
<text transform="translate(595.80,1267.00) scale(1,1)" text-anchor="middle">0.0</text>
<text transform="translate(866.32,1267.00) scale(1,1)" text-anchor="middle">0.5</text>
<text transform="translate(1136.85,1267.00) scale(1,1)" text-anchor="middle">1.0</text>
<text transform="translate(585.90,1039.00) scale(1,1)" text-anchor="end">0.5</text>
<text transform="translate(585.90,851.00) scale(1,1)" text-anchor="end">1.0</text>
<text transform="translate(585.90,663.00) scale(1,1)" text-anchor="end">1.5</text>
<text transform="translate(585.90,475.00) scale(1,1)" text-anchor="end">2.0</text>
<text transform="translate(585.90,287.00) scale(1,1)" text-anchor="end">2.5</text>
<text transform="translate(585.90,100.00) scale(1,1)" text-anchor="end">3.0</text>
<text transform="translate(516,49) scale(1,1.03)"><tspan class="it">I</tspan><tspan font-size="40.6" dx="-1.6" dy="9.5">2</tspan><tspan dx="0.4" dy="-9.5">(A:B)</tspan></text>
<text transform="translate(1188.00,1227.20) scale(1,1)" text-anchor="start" class="it">ξ</text>
<text transform="translate(1349.00,464.00) scale(1,1)" text-anchor="start"><tspan class="it">n</tspan><tspan font-size="40.6" dy="9.20">1</tspan><tspan dy="-6.20">=</tspan><tspan dy="-3.00">0,</tspan><tspan class="it">n</tspan><tspan font-size="40.6" dy="9.20" dx="-1.5">2</tspan><tspan dy="-6.20">=</tspan><tspan dy="-3.00">0</tspan></text>
<text transform="translate(1349.00,561.00) scale(1,1)" text-anchor="start"><tspan class="it">n</tspan><tspan font-size="40.6" dy="9.20">1</tspan><tspan dy="-6.20">=</tspan><tspan dy="-3.00">0.1,</tspan><tspan class="it">n</tspan><tspan font-size="40.6" dy="9.20" dx="-1.5">2</tspan><tspan dy="-6.20">=</tspan><tspan dy="-3.00">0</tspan></text>
<text transform="translate(1349.00,657.00) scale(1,1)" text-anchor="start"><tspan class="it">n</tspan><tspan font-size="40.6" dy="9.20">1</tspan><tspan dy="-6.20">=</tspan><tspan dy="-3.00">0.2,</tspan><tspan class="it">n</tspan><tspan font-size="40.6" dy="9.20" dx="-1.5">2</tspan><tspan dy="-6.20">=</tspan><tspan dy="-3.00">0</tspan></text>
<text transform="translate(1349.00,754.00) scale(1,1)" text-anchor="start"><tspan class="it">n</tspan><tspan font-size="40.6" dy="9.20">1</tspan><tspan dy="-6.20">=</tspan><tspan dy="-3.00">0.3,</tspan><tspan class="it">n</tspan><tspan font-size="40.6" dy="9.20" dx="-1.5">2</tspan><tspan dy="-6.20">=</tspan><tspan dy="-3.00">0</tspan></text>
<text transform="translate(1349.00,850.00) scale(1,1)" text-anchor="start"><tspan class="it">n</tspan><tspan font-size="40.6" dy="9.20">1</tspan><tspan dy="-6.20">=</tspan><tspan dy="-3.00">0.4,</tspan><tspan class="it">n</tspan><tspan font-size="40.6" dy="9.20" dx="-1.5">2</tspan><tspan dy="-6.20">=</tspan><tspan dy="-3.00">0</tspan></text>
</g>
<line x1="1254" y1="440.40" x2="1317.4" y2="440.40" stroke="#5E81B5" stroke-width="6.9"/>
<line x1="1254" y1="536.93" x2="1317.4" y2="536.93" stroke="#E19C24" stroke-width="6.9"/>
<line x1="1254" y1="633.46" x2="1317.4" y2="633.46" stroke="#8FB032" stroke-width="6.9"/>
<line x1="1254" y1="729.99" x2="1317.4" y2="729.99" stroke="#EB6235" stroke-width="6.9"/>
<line x1="1254" y1="826.52" x2="1317.4" y2="826.52" stroke="#8778B3" stroke-width="6.9"/>
</svg></body></html>
